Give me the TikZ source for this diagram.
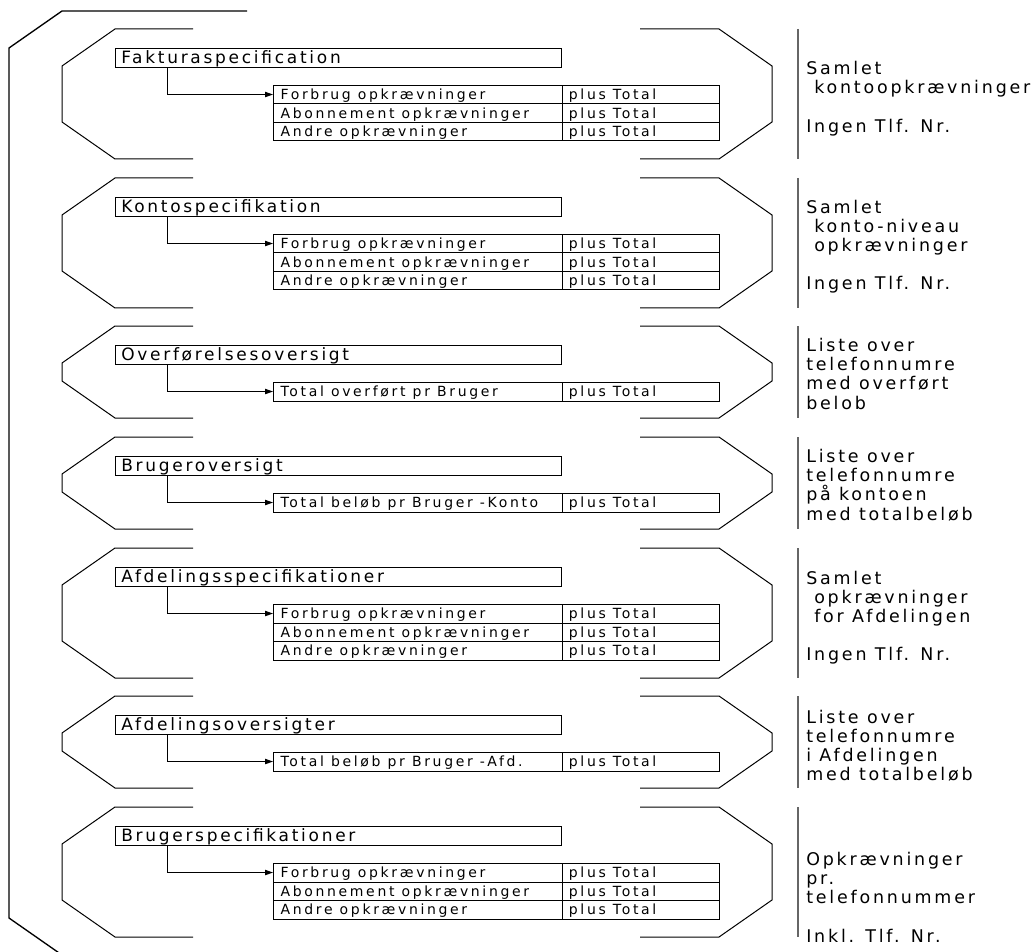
\documentclass[tikz,border=0pt]{standalone}
\usepackage{fontspec}
\setmainfont{DejaVu Sans}
\newfontfamily\titlefont[LetterSpace=16]{DejaVu Sans}
\newfontfamily\notefont[LetterSpace=16]{DejaVu Sans}
\newfontfamily\cellfont[LetterSpace=19]{DejaVu Sans}
\newcommand\lcell[2]{\makebox[#1][l]{#2}}
\usetikzlibrary{arrows.meta}
\begin{document}
\begin{tikzpicture}[x=0.75pt, y=-0.75pt, line join=miter,
  brk/.style={draw=black, line width=0.75pt},
  outer/.style={draw=black, line width=1pt},
  sep/.style={draw=black!60, line width=1.2pt},
  titlebox/.style={draw, anchor=north west, minimum width=334.5pt, minimum height=14.25pt, inner xsep=4.5pt, inner ysep=0pt, text height=9.3pt, text depth=0pt, font=\titlefont\fontsize{12.75}{14}\selectfont},
  cell/.style={draw, anchor=north west, minimum width=216.75pt, minimum height=13.875pt, inner xsep=5.5pt, inner ysep=0pt, text height=7.6pt, text depth=0pt, font=\cellfont\fontsize{10.5}{12}\selectfont},
  sumcell/.style={cell, minimum width=117.75pt, inner xsep=5pt},
  note/.style={anchor=north west, inner sep=0pt, align=left, font=\notefont\fontsize{13.1}{14.4}\selectfont},
  conn/.style={draw, line width=0.75pt, -{Triangle[length=6pt, width=4pt]}}]

\path[use as bounding box, clip] (0,0) rectangle (1035,952);

\draw[outer] (247,11) -- (62,11) -- (9,48) -- (9,918) -- (62,955) -- (247,955);

\foreach \t/\h/\id/\ttl in {29/130/fak/Fakturaspecification, 178/130/kon/Kontospecifikation,
    326/92/ovf/Overførelsesoversigt, 437/92/bro/Brugeroversigt,
    548/130/afs/Afdelingsspecifikationer, 696/92/afo/Afdelingsoversigter,
    807/130/brs/Brugerspecifikationer} {
  \draw[brk] (193,\t) -- (115,\t) -- (62,\t+37) -- (62,\t+\h-37) -- (115,\t+\h) -- (193,\t+\h);
  \draw[brk] (640,\t) -- (719,\t) -- (772,\t+37) -- (772,\t+\h-37) -- (719,\t+\h) -- (640,\t+\h);
  \draw[sep] (798,\t) -- (798,\t+\h);
  \node[titlebox] (\id) at (115,\t+19) {\lcell{325.5pt}{\ttl}};
}

\foreach \id/\t in {fak/29, kon/178, afs/548, brs/807} {
  \foreach \r/\txt in {0/Forbrug opkrævninger, 1/Abonnement opkrævninger, 2/Andre opkrævninger} {
    \node[cell] (\id-\r) at (273,\t+56+18.5*\r) {\lcell{205.75pt}{\txt}};
    \node[sumcell] (\id-\r-sum) at (562,\t+56+18.5*\r) {\lcell{107.75pt}{plus Total}};
  }
  \draw[conn] ([xshift=39pt]\id.south west) |- (\id-0.west);
}

\foreach \id/\t/\txt in {ovf/326/Total overført pr Bruger, bro/437/Total beløb pr Bruger -Konto,
    afo/696/Total beløb pr Bruger -Afd.} {
  \node[cell] (\id-0) at (273,\t+56) {\lcell{205.75pt}{\txt}};
  \node[sumcell] (\id-0-sum) at (562,\t+56) {\lcell{107.75pt}{plus Total}};
  \draw[conn] ([xshift=39pt]\id.south west) |- (\id-0.west);
}

\node[note] (fak-note) at (806,61) {Samlet\\\hspace*{6pt}kontoopkrævninger\\[14.4pt]Ingen Tlf. Nr.};
\node[note] (kon-note) at (806,199.5) {Samlet\\\hspace*{6pt}konto-niveau\\\hspace*{6pt}opkrævninger\\[14.4pt]Ingen Tlf. Nr.};
\node[note] (ovf-note) at (806,338) {Liste over\\telefonnumre\\med overført\\belob};
\node[note] (bro-note) at (806,449) {Liste over\\telefonnumre\\på kontoen\\med totalbeløb};
\node[note] (afs-note) at (806,570.5) {Samlet\\\hspace*{6pt}opkrævninger\\\hspace*{6pt}for Afdelingen\\[14.4pt]Ingen Tlf. Nr.};
\node[note] (afo-note) at (806,709.5) {Liste over\\telefonnumre\\i Afdelingen\\med totalbeløb};
\node[note] (brs-note) at (806,852) {Opkrævninger\\pr.\\telefonnummer\\[14.4pt]Inkl. Tlf. Nr.};

\end{tikzpicture}
\end{document}
